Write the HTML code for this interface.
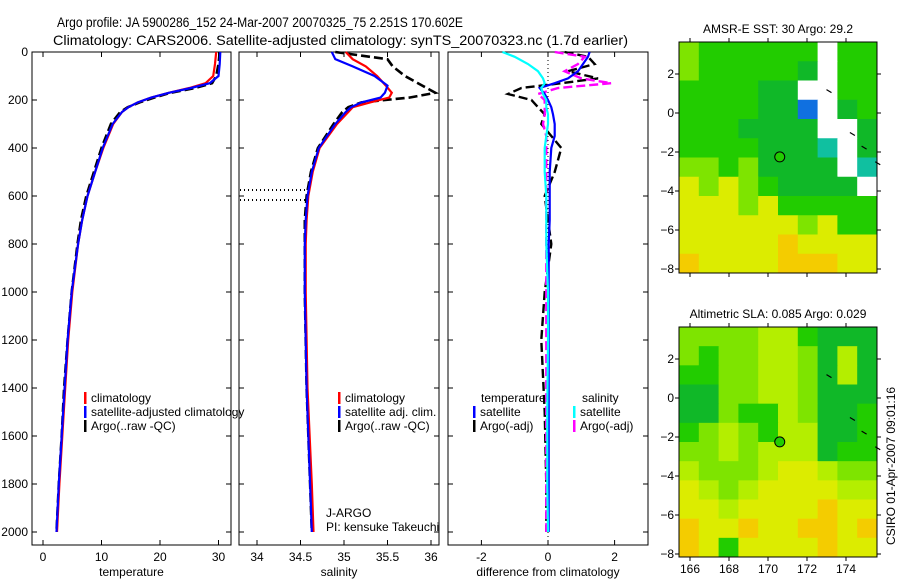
<!DOCTYPE html>
<html><head><meta charset="utf-8"><style>
html,body{margin:0;padding:0;background:#fff;}
svg{display:block;font-family:"Liberation Sans",sans-serif;}
</style></head><body>
<svg id="chart" width="900" height="580" viewBox="0 0 900 580" xmlns="http://www.w3.org/2000/svg">
<text x="57" y="27" font-size="14" textLength="406" lengthAdjust="spacingAndGlyphs">Argo profile: JA 5900286_152 24-Mar-2007 20070325_75 2.251S 170.602E</text>
<text x="53" y="45" font-size="14" textLength="575" lengthAdjust="spacingAndGlyphs">Climatology: CARS2006. Satellite-adjusted climatology: synTS_20070323.nc (1.7d earlier)</text>
<g id="g"></g>
</svg>
<script>
// ---- data ----
const depthT = [0,50,100,130,150,170,190,210,230,250,300,400,500,600,700,800,1000,1200,1400,1600,1800,2000];
const tempClim = [29.6,29.4,29.1,27.8,25,21.5,18.5,16.2,14.6,13.5,12,10.3,8.9,7.6,6.7,6,5,4.3,3.8,3.3,2.8,2.4];
const tempSat = [30.3,30.2,30,28.5,25.3,21.5,18.5,16.2,14.6,13.5,11.9,10.2,8.9,7.6,6.7,6,4.9,4.2,3.7,3.2,2.7,2.3];
const tempArgo = [30.2,30,29.6,28.9,26,21.8,19,16.5,14.5,13.2,11.6,10,8.7,7.4,6.5,5.9,4.9,4.2,3.6,3.2,2.7,2.3];
const depthS = [0,30,60,100,140,170,190,210,230,250,300,400,500,600,700,800,1000,1400,1800,2000];
const salClim = [35.02,35.1,35.25,35.38,35.48,35.55,35.52,35.3,35.1,35.05,34.92,34.72,34.64,34.59,34.57,34.56,34.56,34.58,34.63,34.65];
const salSat = [34.86,34.9,35.1,35.35,35.5,35.47,35.42,35.2,35.08,35.02,34.9,34.71,34.63,34.58,34.56,34.55,34.55,34.57,34.61,34.63];
const salArgo = [34.9,35.5,35.56,35.7,35.9,36.05,35.75,35.2,35.05,34.98,34.88,34.7,34.62,34.57,34.55,34.55,34.55,34.57,34.61,34.63];
const depthD = [0,20,50,80,110,130,150,175,200,230,260,300,350,400,500,600,700,800,1000,1200,1500,1800,2000];
const dTempSat = [1.25,1.2,1.05,0.9,0.6,0.2,-0.25,-0.1,0.0,0.1,0.15,0.2,0.2,0.1,0.05,0.05,0.05,0.02,0.02,0.02,0.02,0.02,0.02];
const dSalSat = [-1.37,-1.0,-0.6,-0.3,-0.15,-0.1,-0.2,-0.15,-0.05,-0.05,0,0,-0.05,-0.1,-0.1,-0.05,-0.05,-0.05,0,0,-0.02,-0.02,0];
const dTempArgo = [0.5,1.2,1.4,0.6,1.5,0.4,-0.8,-1.2,-0.5,-0.3,-0.1,-0.2,0.1,0.4,0.2,-0.1,0,0.1,-0.1,-0.2,-0.1,-0.05,-0.05];
const dSalArgo = [0.2,1.1,0.9,0.5,1.0,1.9,0.3,-0.3,-0.1,-0.1,-0.1,-0.15,-0.05,-0.05,-0.05,-0.05,-0.05,-0.05,-0.05,-0.05,-0.05,-0.05,-0.05];
const depthTicks = [0,200,400,600,800,1000,1200,1400,1600,1800,2000];
const tempTicks = [0,10,20,30];
const salTicks = [34,34.5,35,35.5,36];
const salTickLabels = ["34","34.5","35","35.5","36"];
const diffTicks = [-2,0,2];
const lonTicks = [166,168,170,172,174];
const latTicks = [2,0,-2,-4,-6,-8];
const sstGrid = [
"LGGGGGGWGG","LGGGGGDWGG","GGGGDDWWGG","GGGGDDBWDG","GGGDDDDWWD","GGGGDDDCWD",
"LLGLDDDDWC","YLYLGDDDDW","YYYLYGGGGG","YYYYYYLYGG","YYYYYOYYYY","OYYYYOOOYY"];
const slaGrid = [
"LLLLMMGDDD","LGLLMMLDMD","GGLLMMLDMD","DDLLMMLDDD","DDLGGMLDDG","GLMLGMMDDG",
"LLMLMMMDGG","MLLLMYYMLL","YMLMYYYYMM","YYMYYYYOYY","OYYOYYOOYO","OYGYYYYOYY"];
const argoLon = 170.602, argoLat = -2.251;

// ---- helpers ----
const NS="http://www.w3.org/2000/svg";
const G=document.getElementById('g');
function el(t,a,p){const e=document.createElementNS(NS,t);for(const k in a)e.setAttribute(k,a[k]);(p||G).appendChild(e);return e;}
function txt(s,x,y,a,p){const e=el('text',Object.assign({x:x,y:y,'font-size':12},a||{}),p);e.textContent=s;return e;}
const yD=d=>52+d*0.24;
const xT=v=>43+v*5.85;
const xS=v=>257+(v-34)*87;
const xDf=v=>548+v*33.3;
const panels=[{x0:32,x1:231,f:xT,ticks:tempTicks,labels:tempTicks.map(String),xl:'temperature',n:'temperature'},
{x0:239,x1:439,f:xS,ticks:salTicks,labels:salTickLabels,xl:'salinity',n:'salinity'},
{x0:448,x1:648,f:xDf,ticks:diffTicks,labels:diffTicks.map(String),xl:'difference from climatology',n:'difference'}];
panels.forEach((p,i)=>{
  const r=el('rect',{x:p.x0,y:52,width:p.x1-p.x0,height:493,fill:'none',stroke:'#000','stroke-width':1});
  
  p.ticks.forEach((t,j)=>{const x=p.f(t);
    el('line',{x1:x,x2:x,y1:545,y2:540,stroke:'#000'});el('line',{x1:x,x2:x,y1:52,y2:57,stroke:'#000'});
    const l=txt(p.labels[j],x,561,{'text-anchor':'middle'});});
  const xl=txt(p.xl,(p.x0+p.x1)/2,576,{'text-anchor':'middle'});
  
  depthTicks.forEach(d=>{const y=yD(d);
    el('line',{x1:p.x0,x2:p.x0+5,y1:y,y2:y,stroke:'#000'});el('line',{x1:p.x1,x2:p.x1-5,y1:y,y2:y,stroke:'#000'});
    if(i==0){const l=txt(String(d),28,y+4,{'text-anchor':'end'});}});
});
function line(ds,vs,fx,col,dash,name,w){
  const pts=ds.map((d,i)=>fx(vs[i]).toFixed(1)+','+yD(d).toFixed(1)).join(' ');
  const a={points:pts,fill:'none',stroke:col,'stroke-width':w||2.2};
  if(dash)a['stroke-dasharray']=dash;
  const e=el('polyline',a);}
el('line',{x1:548,x2:548,y1:52,y2:545,stroke:'#000','stroke-dasharray':'1,3'});
[190,200].forEach(y=>el('line',{x1:240,x2:306,y1:y,y2:y,stroke:'#000','stroke-width':2,'stroke-dasharray':'1,3'}));
line(depthT,tempArgo,xT,'#000','9,4','temp-argo-line',2.6);
line(depthT,tempClim,xT,'#f00',null,'temp-climatology-line');
line(depthT,tempSat,xT,'#00f',null,'temp-satellite-line');
line(depthS,salArgo,xS,'#000','9,4','sal-argo-line',2.6);
line(depthS,salClim,xS,'#f00',null,'sal-climatology-line');
line(depthS,salSat,xS,'#00f',null,'sal-satellite-line');
line(depthD,dTempArgo,xDf,'#000','9,4','diff-temp-argo-line',2.4);
line(depthD,dSalArgo,xDf,'#f0f','9,4','diff-sal-argo-line',2.4);
line(depthD,dTempSat,xDf,'#00f',null,'diff-temp-satellite-line');
line(depthD,dSalSat,xDf,'#0ff',null,'diff-sal-satellite-line');
function leg(x,y,col,s,name){el('rect',{x:x,y:y-10,width:2.5,height:12,fill:col});
  const t=txt(s,x+7,y,{});}
leg(84,402,'#f00','climatology','legend-temp-climatology');
leg(84,416,'#00f','satellite-adjusted climatology','legend-temp-satellite');
leg(84,430,'#000','Argo(..raw -QC)','legend-temp-argo');
el('rect',{x:231.5,y:380,width:7,height:30,fill:'#fff'});
el('line',{x1:231,x2:231,y1:52,y2:545,stroke:'#000'});
el('line',{x1:239,x2:239,y1:52,y2:545,stroke:'#000'});
leg(338,402,'#f00','climatology','legend-sal-climatology');
leg(338,416,'#00f','satellite adj. clim.','legend-sal-satellite');
leg(338,430,'#000','Argo(..raw -QC)','legend-sal-argo');
const j1=txt('J-ARGO',326,517,{});
const j2=txt('PI: kensuke Takeuchi',326,531,{});
const lt=txt('temperature',481,402,{});
const ls=txt('salinity',582,402,{});
leg(473,416,'#00f','satellite','legend-diff-temp-satellite');
leg(473,430,'#000','Argo(-adj)','legend-diff-temp-argo');
leg(573,416,'#0ff','satellite','legend-diff-sal-satellite');
leg(573,430,'#f0f','Argo(-adj)','legend-diff-sal-argo');
const colors={G:'#22cc00',D:'#10b828',L:'#7ee400',M:'#b4ee00',Y:'#dcec00',O:'#f4cc00',W:'#ffffff',B:'#1070e0',C:'#10c0a0'};
function map(grid,top,bot,title,lat0y,name){
  const x0=679,x1=877,cw=(x1-x0)/grid[0].length,ch=(bot-top)/grid.length;
  grid.forEach((row,r)=>{[...row].forEach((c,k)=>{
    const e=el('rect',{x:x0+k*cw,y:top+r*ch,width:cw+0.5,height:ch+0.5,fill:colors[c]});
    });});
  const f=el('rect',{x:x0,y:top,width:x1-x0,height:bot-top,fill:'none',stroke:'#000'});
  
  const lx=v=>690+(v-166)*19.5, ly=v=>lat0y-v*19.5;
  lonTicks.forEach(v=>{const x=lx(v);el('line',{x1:x,x2:x,y1:top,y2:top-4,stroke:'#000'});el('line',{x1:x,x2:x,y1:bot,y2:bot+4,stroke:'#000'});
    if(name=='sla-map'){const t=txt(String(v),x,573,{'text-anchor':'middle'});}});
  latTicks.forEach(v=>{const y=ly(v);el('line',{x1:x0,x2:x0-4,y1:y,y2:y,stroke:'#000'});el('line',{x1:x1,x2:x1+4,y1:y,y2:y,stroke:'#000'});
    const t=txt(String(v).replace('-','\u2212'),674,y+4,{'text-anchor':'end'});});
  const c=el('circle',{cx:lx(argoLon),cy:ly(argoLat),r:5,fill:'#22cc00',stroke:'#000','stroke-width':1});
  
  const t=txt(title,778,top-9,{'text-anchor':'middle'});
  [[173,1.2],[174.2,-1],[174.8,-1.7],[175.5,-2.5]].forEach(p=>el('line',{x1:lx(p[0]),y1:ly(p[1]),x2:lx(p[0])+5,y2:ly(p[1])+3,stroke:'#000','stroke-width':1.2}));
}
map(sstGrid,42,273,'AMSR-E SST: 30 Argo: 29.2',113,'sst-map');
map(slaGrid,327,557,'Altimetric SLA: 0.085 Argo: 0.029',398,'sla-map');
const cs=txt('CSIRO 01-Apr-2007 09:01:16',0,0,{'text-anchor':'middle',transform:'translate(895,466) rotate(-90)'});

</script>
</body></html>
